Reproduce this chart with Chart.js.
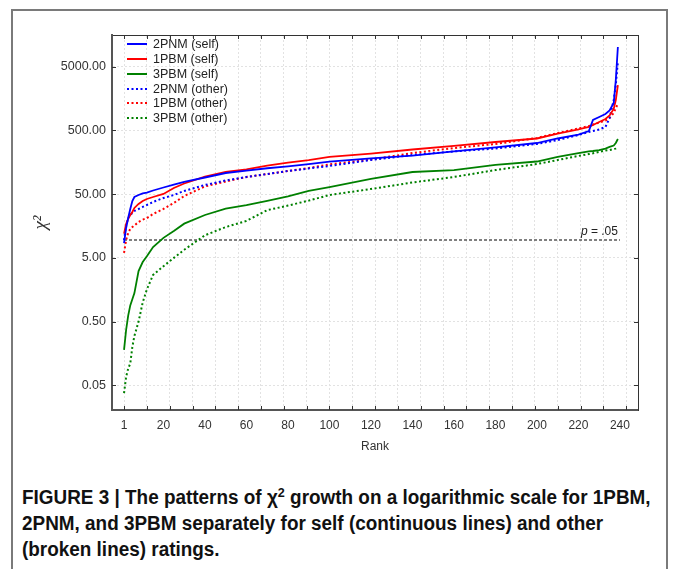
<!DOCTYPE html>
<html>
<head>
<meta charset="utf-8">
<script src="https://cdn.jsdelivr.net/npm/chart.js@4.4.1/dist/chart.umd.min.js"></script>
<style>
  html, body { margin: 0; padding: 0; background: #fff; }
  body { width: 673px; height: 569px; position: relative; overflow: hidden; }
  #frame { position: absolute; left: 11px; top: 9px; width: 657px; height: 620px; border: 2px solid #7a7a7a; box-sizing: border-box; }
  #wrap { position: absolute; left: 0; top: 0; width: 673px; height: 470px; }
  #caption { position: absolute; left: 22px; top: 484px; font: bold 19.5px "Liberation Sans", Arial, sans-serif; line-height: 26px; color: #111; white-space: nowrap; transform: scaleX(0.97); transform-origin: left top; }
</style>
</head>
<body>
<div id="frame"></div>
<div id="wrap"><canvas id="chart" width="673" height="470"></canvas></div>
<div id="caption">FIGURE 3 | The patterns of &chi;<sup style="font-size:13px;line-height:0">2</sup> growth on a logarithmic scale for 1PBM,<br>2PNM, and 3PBM separately for self (continuous lines) and other<br>(broken lines) ratings.</div>
<script>
// ── Data ───────────────────────────────────────────────────

const ranks = [1, 2, 3, 4, 5, 6, 8, 10, 12, 15, 20, 25, 30, 40, 50, 60, 70, 80, 90, 100,
  120, 140, 160, 180, 200, 210, 220, 225, 227, 230, 233, 235, 237, 238, 239];

const pnmSelf = [8.5, 14.7, 21.1, 29.2, 39, 45, 48.4, 51.1, 52.6, 56.9, 63.4, 70.6, 77.4, 91, 107, 117, 127, 136, 148, 161,
  181, 201, 233, 269, 316, 372, 429, 487, 725, 807, 901, 1021, 1340, 3070, 10100];
const pbm1Self = [12, 17, 20.4, 23.5, 26.2, 30.3, 35, 39, 41.9, 45, 50.2, 62.4, 73.3, 94, 111, 122, 140, 156, 171, 191,
  216, 250, 286, 328, 372, 445, 515, 564, 606, 675, 752, 853, 1079, 1493, 2565];
const pbm3Self = [0.18, 0.37, 0.62, 0.9, 1.12, 1.4, 3.1, 4.3, 5.3, 7.4, 10.3, 13.2, 17.2, 23.5, 29.5, 33.5, 39, 46, 56, 64.5,
  86.3, 111, 119, 143, 162, 191, 220, 233, 237, 245, 259, 274, 289, 316, 365];
const pnmOther = [9.5, 16.4, 21, 23.5, 25.3, 27.2, 29.2, 31.4, 33.7, 37.6, 43.4, 48.4, 56, 69.5, 81.7, 92.7, 103, 115, 126, 138,
  171, 205, 233, 259, 305, 352, 422, 470, 487, 515, 564, 780, 1493, 2565, 5890];
const pbm1Other = [6, 9.5, 12.3, 14.2, 15.2, 16.1, 18.3, 19.9, 21, 24.4, 29.2, 36.3, 46.7, 65.9, 78.8, 92.7, 103, 115, 128, 146,
  174, 220, 264, 305, 379, 453, 533, 583, 615, 662, 713, 780, 933, 1119, 1292];
const pbm3Other = [0.038, 0.068, 0.092, 0.11, 0.2, 0.3, 0.5, 1.0, 1.6, 2.7, 3.7, 5.0, 6.7, 11.3, 15.2, 19, 28, 33, 39.5, 48.4,
  60.1, 76, 92.7, 119, 148, 171, 198, 212, 218, 229, 241, 245, 255, 259, 264];

const pLevel = 9.49;          // chi-square critical value, p = .05
const pRanks = [1, 240];

const xLabelRanks = [1, 20, 40, 60, 80, 100, 120, 140, 160, 180, 200, 220, 240];
const xGridRanks = [1, 12, 23, 34, 45, 56, 67, 78, 89, 100, 111, 122, 133, 144, 155, 166, 177, 188, 199, 210, 221, 232, 243];
const yTickValues = [0.05, 0.5, 5, 50, 500, 5000];

// ── Chart setup ────────────────────────────────────────────

const X_MIN = -4.8, X_MAX = 248.7;
const Y_MIN = 0.0206, Y_MAX = 15600;
const FONT = '"Liberation Sans", Arial, sans-serif';
const BLUE = '#0000ff', RED = '#ff0000', GREEN = '#008000';

function series(label, vals, color, dashed) {
  return {
    label,
    data: ranks.map((r, i) => ({ x: r, y: vals[i] })),
    borderColor: color,
    backgroundColor: color,
    borderWidth: dashed ? 2 : 1.8,
    borderDash: dashed ? [2, 2.5] : [],
    pointRadius: 0,
    tension: 0,
  };
}

const datasets = [
  series('2PNM (self)', pnmSelf, BLUE, false),
  series('1PBM (self)', pbm1Self, RED, false),
  series('3PBM (self)', pbm3Self, GREEN, false),
  series('2PNM (other)', pnmOther, BLUE, true),
  series('1PBM (other)', pbm1Other, RED, true),
  series('3PBM (other)', pbm3Other, GREEN, true),
  {
    label: 'p',
    data: pRanks.map(r => ({ x: r, y: pLevel })),
    borderColor: '#555',
    borderWidth: 1.5,
    borderDash: [3, 2],
    pointRadius: 0,
  },
];

// legend in the top-left corner of the plot
const legendBox = {
  id: 'legendBox',
  afterDatasetsDraw(chart) {
    const { ctx, chartArea: a } = chart;
    ctx.save();
    ctx.font = '12.5px ' + FONT;
    ctx.textBaseline = 'middle';
    chart.data.datasets.slice(0, 6).forEach((ds, i) => {
      const y = Math.round(a.top + 9 + i * 14.85);
      const x0 = a.left + 15;
      ctx.strokeStyle = ds.borderColor;
      ctx.lineWidth = 2;
      ctx.setLineDash(ds.borderDash);
      ctx.beginPath();
      ctx.moveTo(x0, y);
      ctx.lineTo(x0 + 20, y);
      ctx.stroke();
      ctx.fillStyle = '#222';
      ctx.fillText(ds.label, x0 + 26, y + 0.5);
    });
    ctx.restore();
  },
};

// short inward tick marks on all four sides
const inwardTicks = {
  id: 'inwardTicks',
  afterDraw(chart) {
    const { ctx, chartArea: a, scales } = chart;
    ctx.save();
    ctx.strokeStyle = '#333';
    ctx.lineWidth = 1;
    ctx.beginPath();
    for (const t of scales.x2.ticks) {
      const px = Math.round(scales.x2.getPixelForValue(t.value)) + 0.5;
      ctx.moveTo(px, a.bottom); ctx.lineTo(px, a.bottom - 4);
      ctx.moveTo(px, a.top); ctx.lineTo(px, a.top + 4);
    }
    for (const t of scales.y.ticks) {
      const py = Math.round(scales.y.getPixelForValue(t.value)) + 0.5;
      ctx.moveTo(a.left, py); ctx.lineTo(a.left + 4, py);
      ctx.moveTo(a.right, py); ctx.lineTo(a.right - 4, py);
    }
    ctx.stroke();
    ctx.restore();
  },
};

// "p = .05" over the right end of the threshold line
const pLabel = {
  id: 'pLabel',
  afterDatasetsDraw(chart) {
    const { ctx, scales } = chart;
    const xr = scales.x.getPixelForValue(pRanks[1]) - 2;
    const y = scales.y.getPixelForValue(pLevel) - 5;
    ctx.save();
    ctx.fillStyle = '#222';
    ctx.textBaseline = 'alphabetic';
    ctx.textAlign = 'right';
    ctx.font = '12px ' + FONT;
    const rest = ' = .05';
    ctx.fillText(rest, xr, y);
    const w = ctx.measureText(rest).width;
    ctx.font = 'italic 12px ' + FONT;
    ctx.fillText('p', xr - w, y);
    ctx.restore();
  },
};

new Chart(document.getElementById('chart'), {
  type: 'line',
  data: { datasets },
  options: {
    responsive: false,
    animation: false,
    layout: { padding: { left: 30, top: 35, right: 35, bottom: 16 } },
    plugins: {
      tooltip: { enabled: false },
      legend: { display: false },
    },
    scales: {
      x: {
        type: 'linear',
        position: 'bottom',
        min: X_MIN,
        max: X_MAX,
        afterBuildTicks: s => { s.ticks = xLabelRanks.map(v => ({ value: v })); },
        afterFit: s => { s.height = 44; },
        grid: { display: false, drawTicks: false },
        border: { color: '#555', width: 2 },
        ticks: { padding: 8, autoSkip: false, maxRotation: 0, color: '#333', font: { family: FONT, size: 12 }, callback: v => String(v) },
        title: { display: true, text: 'Rank', color: '#333', padding: 0, font: { family: FONT, size: 12 } },
      },
      x2: {
        type: 'linear',
        position: 'top',
        min: X_MIN,
        max: X_MAX,
        afterBuildTicks: s => { s.ticks = xGridRanks.map(v => ({ value: v })); },
        afterFit: s => { s.height = 0; },
        ticks: { display: false },
        grid: { color: '#e2e2e2', lineWidth: 1, drawTicks: false },
        border: { color: '#333', width: 1, dash: [2, 2] },
      },
      y: {
        type: 'logarithmic',
        min: Y_MIN,
        max: Y_MAX,
        afterBuildTicks: s => { s.ticks = yTickValues.map(v => ({ value: v })); },
        afterFit: s => { s.width = 82; },
        grid: { color: '#e2e2e2', lineWidth: 1, drawTicks: false },
        border: { color: '#555', width: 2, dash: [2, 2] },
        ticks: { padding: 6, color: '#333', font: { family: FONT, size: 12.5 }, callback: v => Number(v).toFixed(2) },
        title: { display: true, text: 'χ²', color: '#333', padding: 0, font: { family: '"Liberation Serif", serif', style: 'italic', size: 19 } },
      },
      y2: {
        type: 'linear',
        position: 'right',
        afterFit: s => { s.width = 0; },
        ticks: { display: false },
        grid: { display: false, drawTicks: false },
        border: { color: '#333', width: 1 },
      },
    },
  },
  plugins: [legendBox, inwardTicks, pLabel],
});
</script>
</body>
</html>
